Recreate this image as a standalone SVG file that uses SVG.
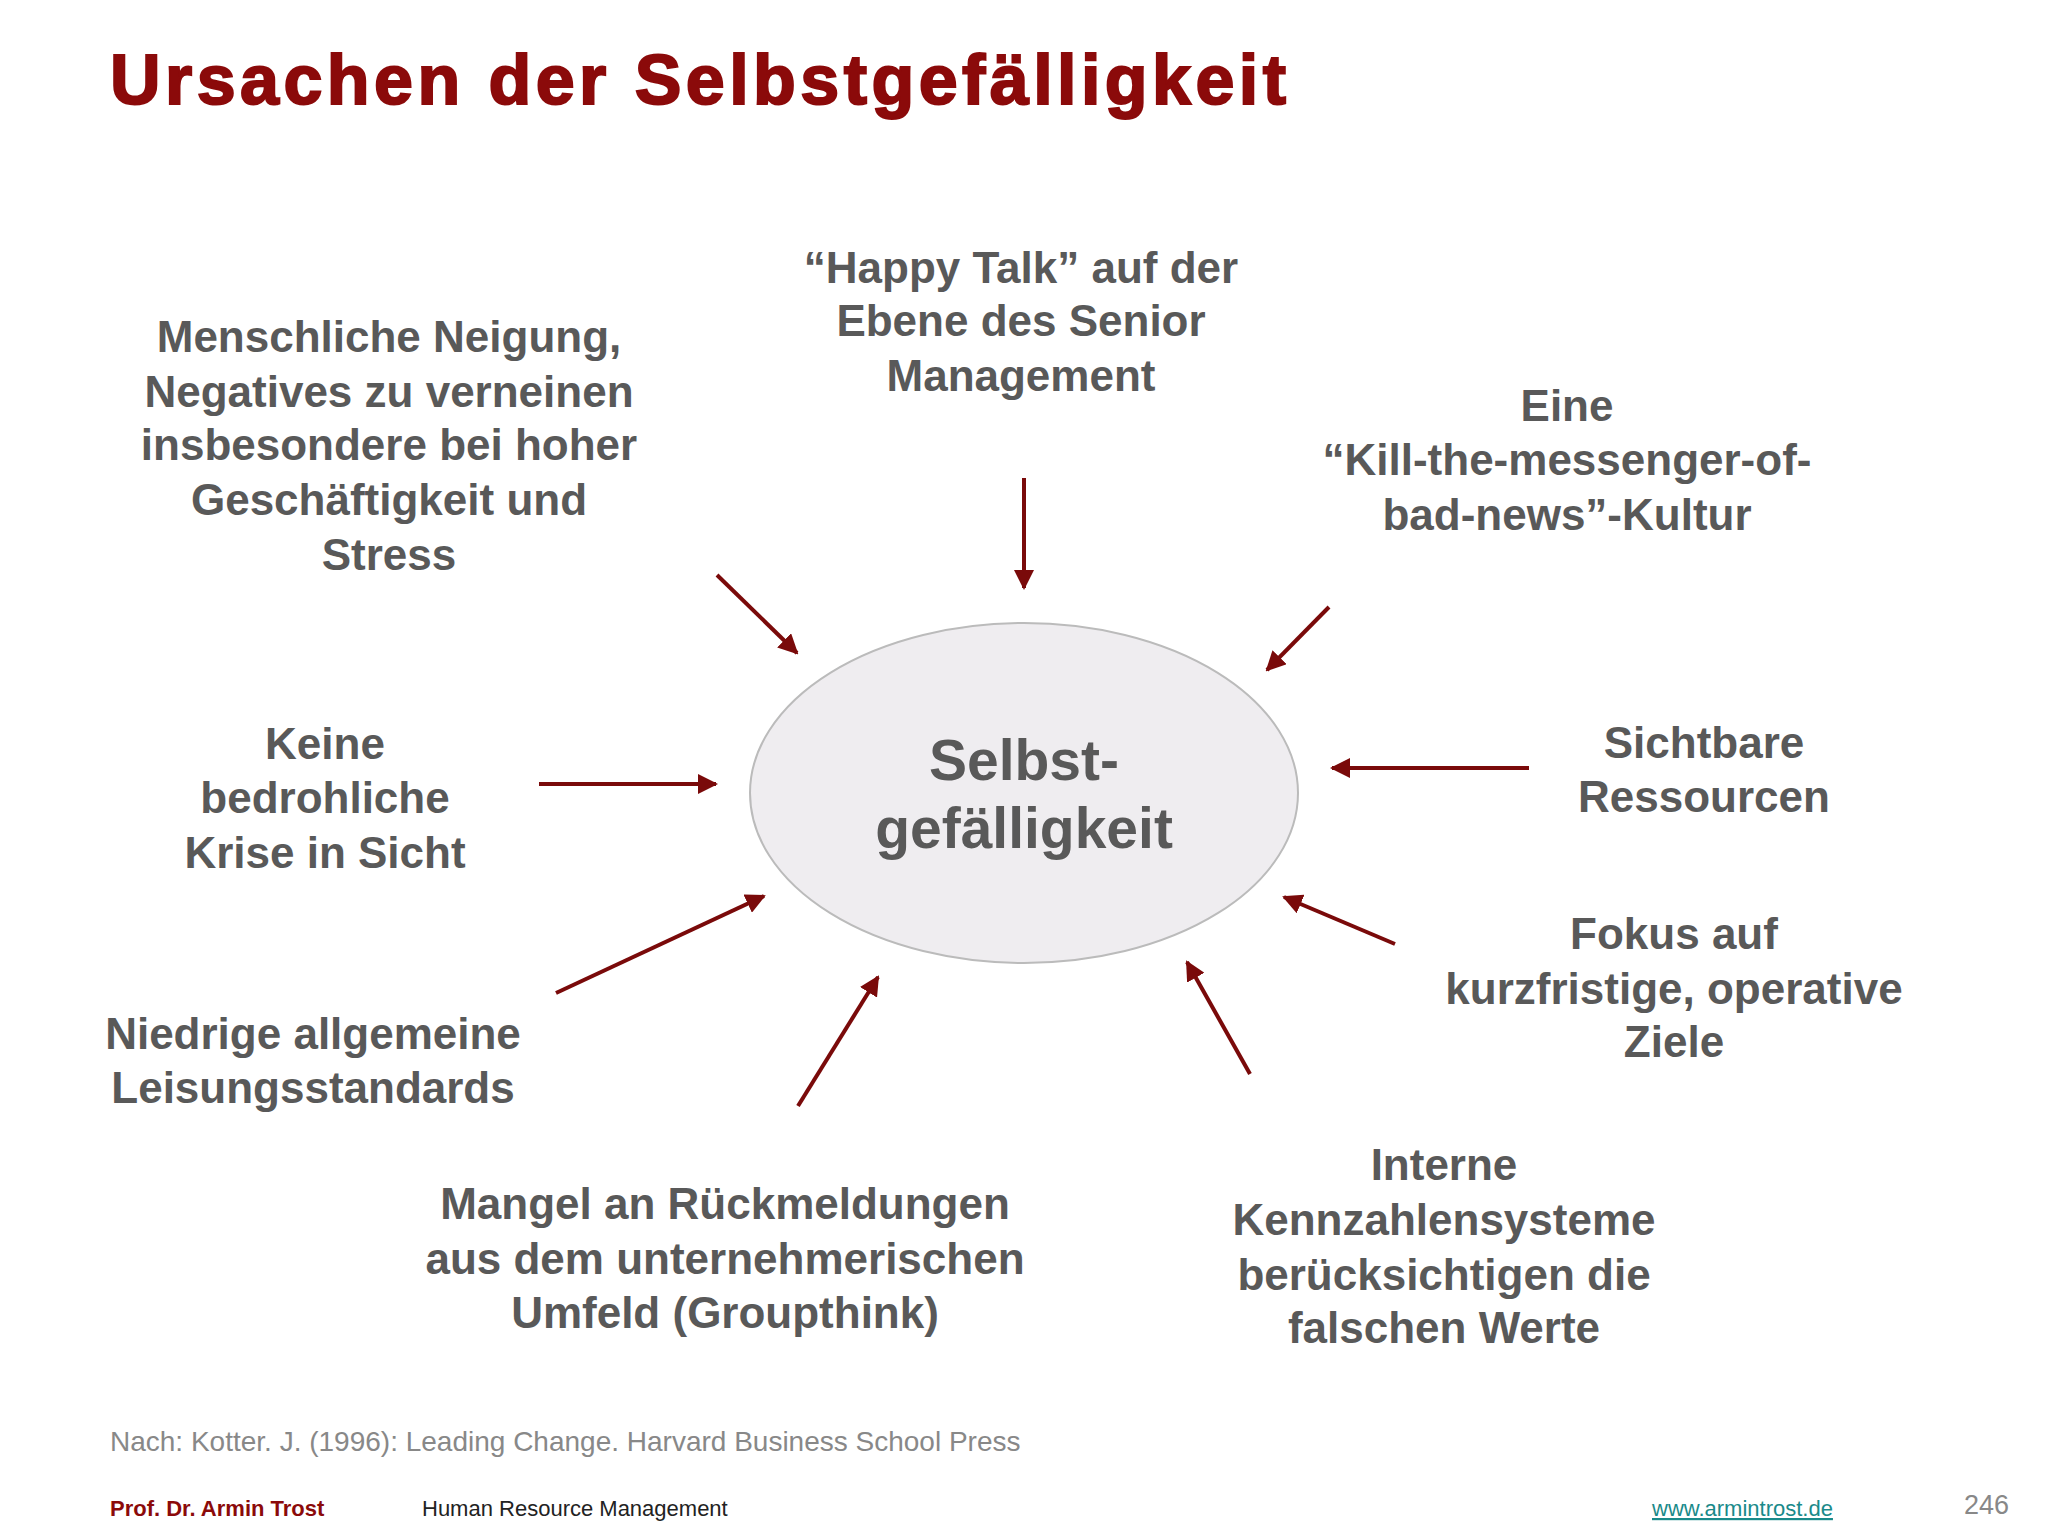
<svg xmlns="http://www.w3.org/2000/svg" width="2048" height="1536" viewBox="0 0 2048 1536">
<style>
.t{font-family:"Liberation Sans",Arial,sans-serif;font-weight:bold;font-size:44px;fill:#595959;text-anchor:middle}
.a{stroke:#7a0a0a;stroke-width:4;fill:none;marker-end:url(#ah)}
</style>
<defs><marker id="ah" viewBox="0 0 10 10" refX="9" refY="5" markerWidth="5" markerHeight="5" orient="auto"><path d="M0,0L10,5L0,10z" fill="#7a0a0a"/></marker></defs>
<rect width="2048" height="1536" fill="#fff"/>
<text x="110" y="104" font-family="Liberation Sans,Arial,sans-serif" font-weight="900" font-size="70" fill="#8b0a0a" stroke="#8b0a0a" stroke-width="2" textLength="1176" lengthAdjust="spacing">Ursachen der Selbstgefälligkeit</text>
<g id="center"><ellipse cx="1024" cy="793" rx="274" ry="170" fill="#efedf0" stroke="#bbb" stroke-width="2"/>
<text class="t" style="font-size:57px" x="1024" y="780">Selbst-</text><text class="t" style="font-size:57px" x="1024" y="848">gefälligkeit</text></g>
<g id="n1"><text class="t" x="1021" y="283">“Happy Talk” auf der</text><text class="t" x="1021" y="336">Ebene des Senior</text><text class="t" x="1021" y="391">Management</text></g>
<g id="n2"><text class="t" x="389" y="352">Menschliche Neigung,</text><text class="t" x="389" y="407">Negatives zu verneinen</text><text class="t" x="389" y="460">insbesondere bei hoher</text><text class="t" x="389" y="515">Geschäftigkeit und</text><text class="t" x="389" y="570">Stress</text></g>
<g id="n3"><text class="t" x="1567" y="421">Eine</text><text class="t" x="1567" y="475">“Kill-the-messenger-of-</text><text class="t" x="1567" y="530">bad-news”-Kultur</text></g>
<g id="n4"><text class="t" x="325" y="759">Keine</text><text class="t" x="325" y="813">bedrohliche</text><text class="t" x="325" y="868">Krise in Sicht</text></g>
<g id="n5"><text class="t" x="1704" y="758">Sichtbare</text><text class="t" x="1704" y="812">Ressourcen</text></g>
<g id="n6"><text class="t" x="1674" y="949">Fokus auf</text><text class="t" x="1674" y="1004">kurzfristige, operative</text><text class="t" x="1674" y="1057">Ziele</text></g>
<g id="n7"><text class="t" x="313" y="1049">Niedrige allgemeine</text><text class="t" x="313" y="1103">Leisungsstandards</text></g>
<g id="n8"><text class="t" x="725" y="1219">Mangel an Rückmeldungen</text><text class="t" x="725" y="1274">aus dem unternehmerischen</text><text class="t" x="725" y="1328">Umfeld (Groupthink)</text></g>
<g id="n9"><text class="t" x="1444" y="1180">Interne</text><text class="t" x="1444" y="1235">Kennzahlensysteme</text><text class="t" x="1444" y="1290">berücksichtigen die</text><text class="t" x="1444" y="1343">falschen Werte</text></g>
<g id="connectors">
<line class="a" x1="717" y1="575" x2="797" y2="653"/>
<line class="a" x1="1024" y1="478" x2="1024" y2="588"/>
<line class="a" x1="1329" y1="607" x2="1267" y2="670"/>
<line class="a" x1="539" y1="784" x2="716" y2="784"/>
<line class="a" x1="1529" y1="768" x2="1332" y2="768"/>
<line class="a" x1="556" y1="993" x2="764" y2="896"/>
<line class="a" x1="1395" y1="944" x2="1284" y2="897"/>
<line class="a" x1="798" y1="1106" x2="878" y2="977"/>
<line class="a" x1="1250" y1="1074" x2="1187" y2="962"/>
</g>
<text x="110" y="1451" font-family="Liberation Sans,Arial,sans-serif" font-size="28" fill="#888">Nach: Kotter. J. (1996): Leading Change. Harvard Business School Press</text>
<text x="110" y="1516" font-family="Liberation Sans,Arial,sans-serif" font-weight="bold" font-size="22" fill="#8b0a0a">Prof. Dr. Armin Trost</text>
<text x="422" y="1516" font-family="Liberation Sans,Arial,sans-serif" font-size="22" fill="#222">Human Resource Management</text>
<text x="1652" y="1516" font-family="Liberation Sans,Arial,sans-serif" font-size="22" fill="#1a8a8a" text-decoration="underline">www.armintrost.de</text>
<text x="1964" y="1514" font-family="Liberation Sans,Arial,sans-serif" font-size="27" fill="#888">246</text>
</svg>
